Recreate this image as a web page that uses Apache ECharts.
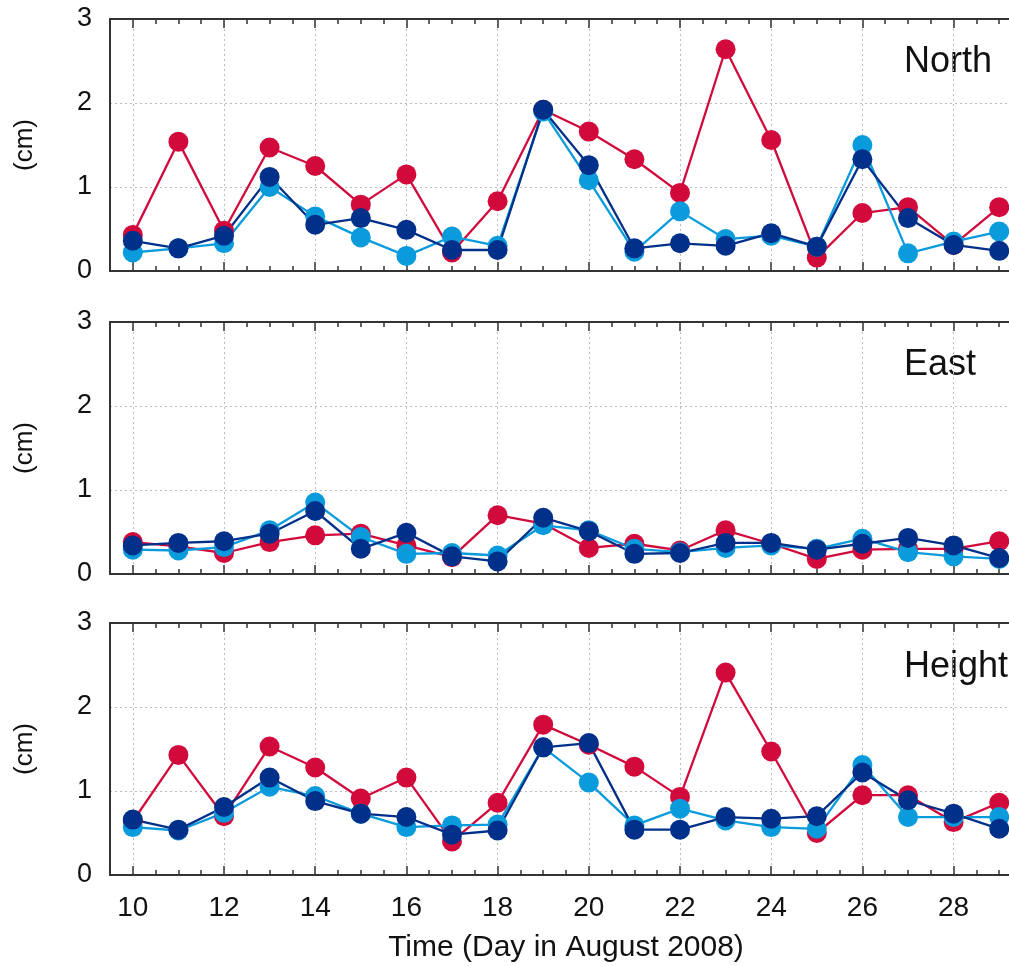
<!DOCTYPE html>
<html>
<head>
<meta charset="utf-8">
<script src="https://cdn.jsdelivr.net/npm/echarts@6/dist/echarts.min.js"></script>
<style>
  html, body { margin: 0; padding: 0; background: #fff; }
  #chart { width: 1009px; height: 966px; }
</style>
</head>
<body>
<div id="chart"></div>
<script>
// days on the x axis
var days = [10, 11, 12, 13, 14, 15, 16, 17, 18, 19, 20, 21, 22, 23, 24, 25, 26, 27, 28, 29];
// x axis positions every half day (ticks), labels only on even days
var xCats = ['9.5', '10', '10.5', '11', '11.5', '12', '12.5', '13', '13.5', '14', '14.5',
             '15', '15.5', '16', '16.5', '17', '17.5', '18', '18.5', '19', '19.5',
             '20', '20.5', '21', '21.5', '22', '22.5', '23', '23.5', '24', '24.5',
             '25', '25.5', '26', '26.5', '27', '27.5', '28', '28.5', '29', '29.5'];
var yTicks = [0, 1, 2, 3];
var panelNames = ['North', 'East', 'Height'];

// North (cm)
var northRed   = [0.43, 1.54, 0.48, 1.47, 1.25, 0.79, 1.15, 0.22, 0.83, 1.92, 1.66, 1.33, 0.93, 2.64, 1.56, 0.16, 0.69, 0.76, 0.31, 0.76];
var northLight = [0.22, 0.27, 0.33, 1.00, 0.65, 0.40, 0.18, 0.41, 0.30, 1.90, 1.08, 0.23, 0.71, 0.38, 0.42, 0.29, 1.50, 0.21, 0.35, 0.47];
var northDark  = [0.36, 0.27, 0.42, 1.12, 0.55, 0.63, 0.49, 0.25, 0.25, 1.92, 1.26, 0.27, 0.33, 0.30, 0.45, 0.29, 1.33, 0.63, 0.31, 0.24];

// East (cm)
var eastRed   = [0.38, 0.33, 0.25, 0.38, 0.46, 0.48, 0.34, 0.20, 0.70, 0.60, 0.31, 0.36, 0.28, 0.52, 0.36, 0.18, 0.29, 0.30, 0.30, 0.39];
var eastLight = [0.29, 0.28, 0.32, 0.52, 0.85, 0.44, 0.24, 0.25, 0.22, 0.58, 0.52, 0.30, 0.26, 0.31, 0.34, 0.30, 0.42, 0.26, 0.21, 0.18];
var eastDark  = [0.34, 0.37, 0.39, 0.48, 0.75, 0.30, 0.49, 0.21, 0.15, 0.67, 0.51, 0.24, 0.25, 0.37, 0.37, 0.29, 0.36, 0.43, 0.34, 0.19];

// Height (cm)
var heightRed   = [0.64, 1.43, 0.70, 1.53, 1.28, 0.91, 1.16, 0.40, 0.86, 1.79, 1.55, 1.29, 0.93, 2.41, 1.47, 0.50, 0.95, 0.95, 0.63, 0.86];
var heightLight = [0.57, 0.53, 0.74, 1.05, 0.94, 0.73, 0.57, 0.59, 0.60, 1.52, 1.10, 0.59, 0.79, 0.65, 0.57, 0.55, 1.31, 0.69, 0.69, 0.69];
var heightDark  = [0.66, 0.54, 0.81, 1.16, 0.88, 0.73, 0.69, 0.48, 0.53, 1.52, 1.57, 0.54, 0.54, 0.69, 0.67, 0.70, 1.22, 0.89, 0.73, 0.55];

var colors = ['#d20a3c', '#0a9bdc', '#003089'];
var panels = [
    [northRed, northLight, northDark],
    [eastRed, eastLight, eastDark],
    [heightRed, heightLight, heightDark]
];

var font = '"Liberation Sans", Arial, Helvetica, sans-serif';
var axisColor = '#333';
var gridColor = '#bdbdbd';
var gridTops = [19, 322, 623];
var gridHeight = 252;

function evenDay(idx, val) {
    return Number(val) % 2 === 0;
}

function pairs(vals) {
    var out = [];
    for (var i = 0; i < days.length; i++) out.push([String(days[i]), vals[i]]);
    return out;
}

var grids = [], xAxes = [], yAxes = [], series = [], graphics = [];

for (var g = 0; g < 3; g++) {
    // plot box runs past the right edge of the picture
    grids.push({ left: 110, top: gridTops[g], height: gridHeight, width: 912, outerBoundsMode: 'none' });
    var last = g === 2;

    // major ticks + labels, bottom
    xAxes.push({
        type: 'category', gridIndex: g, data: xCats, boundaryGap: false, position: 'bottom',
        axisLine: { show: true, onZero: false, lineStyle: { color: axisColor, width: 2 } },
        axisTick: { inside: true, length: 9, interval: evenDay, lineStyle: { color: axisColor, width: 1.5 } },
        axisLabel: { show: last, interval: evenDay, fontSize: 28, color: '#111', fontFamily: font, margin: 19 },
        splitLine: { show: true, interval: evenDay, lineStyle: { type: [2, 3], color: gridColor, width: 1 } },
        name: last ? 'Time (Day in August 2008)' : '',
        nameLocation: 'middle', nameGap: 58,
        nameTextStyle: { fontSize: 30, color: '#111', fontFamily: font }
    });
    // minor ticks, bottom
    xAxes.push({
        type: 'category', gridIndex: g, data: xCats, boundaryGap: false, position: 'bottom',
        axisLine: { show: false }, axisLabel: { show: false }, splitLine: { show: false },
        axisTick: { inside: true, length: 5, interval: 0, lineStyle: { color: axisColor, width: 1.5 } }
    });
    // top border with ticks
    xAxes.push({
        type: 'category', gridIndex: g, data: xCats, boundaryGap: false, position: 'top',
        axisLine: { show: true, onZero: false, lineStyle: { color: axisColor, width: 2 } },
        axisTick: { inside: true, length: 9, interval: evenDay, lineStyle: { color: axisColor, width: 1.5 } },
        axisLabel: { show: false }, splitLine: { show: false }
    });
    xAxes.push({
        type: 'category', gridIndex: g, data: xCats, boundaryGap: false, position: 'top',
        axisLine: { show: false }, axisLabel: { show: false }, splitLine: { show: false },
        axisTick: { inside: true, length: 5, interval: 0, lineStyle: { color: axisColor, width: 1.5 } }
    });

    yAxes.push({
        type: 'value', gridIndex: g, min: yTicks[0], max: yTicks[yTicks.length - 1], interval: 1,
        axisLine: { show: true, onZero: false, lineStyle: { color: axisColor, width: 2 } },
        axisTick: { inside: true, length: 9, lineStyle: { color: axisColor, width: 1.5 } },
        axisLabel: { fontSize: 27, color: '#111', fontFamily: font, margin: 18 },
        splitLine: { show: true, lineStyle: { type: [2, 3], color: gridColor, width: 1 } },
        name: '(cm)', nameLocation: 'middle', nameGap: 72, nameRotate: 90,
        nameTextStyle: { fontSize: 26, color: '#111', fontFamily: font }
    });

    for (var s = 0; s < 3; s++) {
        series.push({
            type: 'line', xAxisIndex: g * 4, yAxisIndex: g,
            data: pairs(panels[g][s]),
            symbol: 'circle', symbolSize: 20, showSymbol: true, showAllSymbol: true,
            lineStyle: { color: colors[s], width: 2.3 },
            itemStyle: { color: colors[s] },
            clip: false
        });
    }

    graphics.push({
        type: 'text', left: 904, top: [44, 347, 649][g],
        style: { text: panelNames[g], fontSize: 36, fill: '#111', fontFamily: font }
    });
}

var myChart = echarts.init(document.getElementById('chart'));
myChart.setOption({
    animation: false,
    backgroundColor: '#fff',
    grid: grids,
    xAxis: xAxes,
    yAxis: yAxes,
    series: series,
    graphic: graphics
});
</script>
</body>
</html>
